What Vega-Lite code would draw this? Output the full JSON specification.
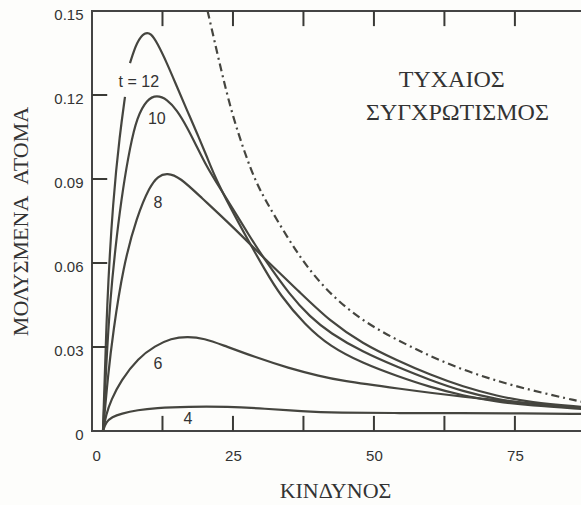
{
  "$schema": "https://vega.github.io/schema/vega-lite/v6.json",
  "width": 490,
  "height": 420,
  "autosize": {"type": "none"},
  "padding": {"left": 92, "top": 11, "right": 0, "bottom": 74},
  "background": "#fdfdfb",
  "config": {
    "view": {"stroke": "#444", "strokeWidth": 2},
    "axis": {"labelFont": "Liberation Sans", "titleFont": "Liberation Serif", "labelColor": "#333", "titleColor": "#333", "ticks": false, "domain": false, "grid": false}
  },
  "datasets": {
    "curves": [
      {"seg": "12a", "x": 1.95, "y": 0}, {"seg": "12a", "x": 2.66, "y": 0.0468}, {"seg": "12a", "x": 3.72, "y": 0.0825}, {"seg": "12a", "x": 4.96, "y": 0.1064}, {"seg": "12a", "x": 5.85, "y": 0.1193},
      {"seg": "12b", "x": 6.74, "y": 0.1314}, {"seg": "12b", "x": 7.98, "y": 0.1392}, {"seg": "12b", "x": 9.4, "y": 0.1425}, {"seg": "12b", "x": 10.46, "y": 0.142}, {"seg": "12b", "x": 11.52, "y": 0.1388}, {"seg": "12b", "x": 13.3, "y": 0.1314}, {"seg": "12b", "x": 15.07, "y": 0.1229}, {"seg": "12b", "x": 16.84, "y": 0.1146}, {"seg": "12b", "x": 18.62, "y": 0.1064}, {"seg": "12b", "x": 20.39, "y": 0.0979}, {"seg": "12b", "x": 21.81, "y": 0.0907}, {"seg": "12b", "x": 24.47, "y": 0.08}, {"seg": "12b", "x": 27.66, "y": 0.0682}, {"seg": "12b", "x": 30.67, "y": 0.0575}, {"seg": "12b", "x": 33.33, "y": 0.0486}, {"seg": "12b", "x": 37.77, "y": 0.0379}, {"seg": "12b", "x": 42.2, "y": 0.0302}, {"seg": "12b", "x": 48.0, "y": 0.0242}, {"seg": "12b", "x": 54.1, "y": 0.0196}, {"seg": "12b", "x": 59.9, "y": 0.0157}, {"seg": "12b", "x": 65.8, "y": 0.0126}, {"seg": "12b", "x": 71.8, "y": 0.0104}, {"seg": "12b", "x": 77.7, "y": 0.0091}, {"seg": "12b", "x": 86.9, "y": 0.0079},
      {"seg": "10", "x": 1.95, "y": 0}, {"seg": "10", "x": 2.48, "y": 0.0218}, {"seg": "10", "x": 3.19, "y": 0.0468}, {"seg": "10", "x": 4.43, "y": 0.0707}, {"seg": "10", "x": 5.5, "y": 0.0868}, {"seg": "10", "x": 6.74, "y": 0.1014}, {"seg": "10", "x": 7.98, "y": 0.1121}, {"seg": "10", "x": 9.75, "y": 0.1185}, {"seg": "10", "x": 11.52, "y": 0.12}, {"seg": "10", "x": 13.3, "y": 0.1185}, {"seg": "10", "x": 15.07, "y": 0.1146}, {"seg": "10", "x": 16.84, "y": 0.1086}, {"seg": "10", "x": 18.62, "y": 0.1014}, {"seg": "10", "x": 20.39, "y": 0.0943}, {"seg": "10", "x": 21.81, "y": 0.0896}, {"seg": "10", "x": 24.47, "y": 0.0811}, {"seg": "10", "x": 28.01, "y": 0.0693}, {"seg": "10", "x": 30.67, "y": 0.0611}, {"seg": "10", "x": 35.11, "y": 0.0485}, {"seg": "10", "x": 38.65, "y": 0.0408}, {"seg": "10", "x": 42.2, "y": 0.035}, {"seg": "10", "x": 48.0, "y": 0.0282}, {"seg": "10", "x": 54.1, "y": 0.0229}, {"seg": "10", "x": 59.9, "y": 0.0182}, {"seg": "10", "x": 65.8, "y": 0.0141}, {"seg": "10", "x": 71.8, "y": 0.0113}, {"seg": "10", "x": 77.7, "y": 0.0096}, {"seg": "10", "x": 86.9, "y": 0.0082},
      {"seg": "8", "x": 1.95, "y": 0}, {"seg": "8", "x": 2.84, "y": 0.02}, {"seg": "8", "x": 3.72, "y": 0.035}, {"seg": "8", "x": 5.5, "y": 0.0586}, {"seg": "8", "x": 7.98, "y": 0.0768}, {"seg": "8", "x": 10.28, "y": 0.0875}, {"seg": "8", "x": 11.7, "y": 0.091}, {"seg": "8", "x": 13.3, "y": 0.0922}, {"seg": "8", "x": 15.6, "y": 0.0906}, {"seg": "8", "x": 19.15, "y": 0.0838}, {"seg": "8", "x": 25.0, "y": 0.0729}, {"seg": "8", "x": 30.67, "y": 0.0614}, {"seg": "8", "x": 36.88, "y": 0.0495}, {"seg": "8", "x": 42.2, "y": 0.0392}, {"seg": "8", "x": 48.0, "y": 0.0312}, {"seg": "8", "x": 54.1, "y": 0.0252}, {"seg": "8", "x": 59.9, "y": 0.0201}, {"seg": "8", "x": 65.8, "y": 0.0158}, {"seg": "8", "x": 71.8, "y": 0.0125}, {"seg": "8", "x": 77.7, "y": 0.0102}, {"seg": "8", "x": 86.9, "y": 0.0086},
      {"seg": "6", "x": 1.95, "y": 0}, {"seg": "6", "x": 2.5, "y": 0.006}, {"seg": "6", "x": 3.4, "y": 0.0111}, {"seg": "6", "x": 5.1, "y": 0.018}, {"seg": "6", "x": 8.2, "y": 0.0261}, {"seg": "6", "x": 11.2, "y": 0.0304}, {"seg": "6", "x": 14.0, "y": 0.0331}, {"seg": "6", "x": 17.0, "y": 0.0338}, {"seg": "6", "x": 20.0, "y": 0.033}, {"seg": "6", "x": 22.9, "y": 0.0309}, {"seg": "6", "x": 28.9, "y": 0.0264}, {"seg": "6", "x": 34.8, "y": 0.0225}, {"seg": "6", "x": 40.6, "y": 0.0195}, {"seg": "6", "x": 43.6, "y": 0.0182}, {"seg": "6", "x": 54.1, "y": 0.0152}, {"seg": "6", "x": 65.8, "y": 0.0121}, {"seg": "6", "x": 77.7, "y": 0.0099}, {"seg": "6", "x": 86.9, "y": 0.0082},
      {"seg": "4", "x": 1.95, "y": 0}, {"seg": "4", "x": 2.48, "y": 0.0032}, {"seg": "4", "x": 3.55, "y": 0.005}, {"seg": "4", "x": 5.14, "y": 0.0062}, {"seg": "4", "x": 8.16, "y": 0.0075}, {"seg": "4", "x": 11.17, "y": 0.0082}, {"seg": "4", "x": 17.0, "y": 0.0087}, {"seg": "4", "x": 24.1, "y": 0.0087}, {"seg": "4", "x": 30.7, "y": 0.008}, {"seg": "4", "x": 37.1, "y": 0.007}, {"seg": "4", "x": 43.6, "y": 0.0065}, {"seg": "4", "x": 54.6, "y": 0.0064}, {"seg": "4", "x": 65.2, "y": 0.0064}, {"seg": "4", "x": 75.9, "y": 0.0063}, {"seg": "4", "x": 86.9, "y": 0.0061}
    ],
    "limit": [
      {"x": 20.5, "y": 0.15}, {"x": 21.8, "y": 0.1386}, {"x": 23.2, "y": 0.1264}, {"x": 25.0, "y": 0.1121}, {"x": 27.1, "y": 0.0993}, {"x": 28.9, "y": 0.0896}, {"x": 31.0, "y": 0.0815}, {"x": 34.6, "y": 0.0693}, {"x": 38.1, "y": 0.0585}, {"x": 42.7, "y": 0.0479}, {"x": 48.2, "y": 0.039}, {"x": 54.1, "y": 0.0325}, {"x": 59.9, "y": 0.0268}, {"x": 65.8, "y": 0.0218}, {"x": 71.8, "y": 0.0179}, {"x": 77.7, "y": 0.0146}, {"x": 86.9, "y": 0.0104}
    ],
    "tickmarks": [
      {"id": "b1", "x": 12.5, "y": 0}, {"id": "b1", "x": 12.5, "y": 0.0054},
      {"id": "b2", "x": 25, "y": 0}, {"id": "b2", "x": 25, "y": 0.0054},
      {"id": "b3", "x": 37.5, "y": 0}, {"id": "b3", "x": 37.5, "y": 0.0054},
      {"id": "b4", "x": 50, "y": 0}, {"id": "b4", "x": 50, "y": 0.0054},
      {"id": "b5", "x": 62.5, "y": 0}, {"id": "b5", "x": 62.5, "y": 0.0054},
      {"id": "b6", "x": 75, "y": 0}, {"id": "b6", "x": 75, "y": 0.0054},
      {"id": "t1", "x": 12.5, "y": 0.1446}, {"id": "t1", "x": 12.5, "y": 0.15},
      {"id": "t2", "x": 25, "y": 0.1446}, {"id": "t2", "x": 25, "y": 0.15},
      {"id": "t3", "x": 37.5, "y": 0.1446}, {"id": "t3", "x": 37.5, "y": 0.15},
      {"id": "t4", "x": 50, "y": 0.1446}, {"id": "t4", "x": 50, "y": 0.15},
      {"id": "t5", "x": 62.5, "y": 0.1446}, {"id": "t5", "x": 62.5, "y": 0.15},
      {"id": "t6", "x": 75, "y": 0.1446}, {"id": "t6", "x": 75, "y": 0.15},
      {"id": "l1", "x": 0, "y": 0.03}, {"id": "l1", "x": 2.7, "y": 0.03},
      {"id": "l2", "x": 0, "y": 0.06}, {"id": "l2", "x": 2.7, "y": 0.06},
      {"id": "l3", "x": 0, "y": 0.09}, {"id": "l3", "x": 2.7, "y": 0.09},
      {"id": "l4", "x": 0, "y": 0.12}, {"id": "l4", "x": 2.7, "y": 0.12}
    ],
    "labels": [
      {"label": "t = 12", "x": 8.3, "y": 0.1246}, {"label": "10", "x": 11.5, "y": 0.1114}, {"label": "8", "x": 11.7, "y": 0.0814}, {"label": "6", "x": 11.7, "y": 0.0239}, {"label": "4", "x": 17.0, "y": 0.0043}
    ],
    "notes": [
      {"label": "ΤΥΧΑΙΟΣ", "x": 63.8, "y": 0.1254}, {"label": "ΣΥΓΧΡΩΤΙΣΜΟΣ", "x": 64.8, "y": 0.1134}
    ]
  },
  "layer": [
    {
      "data": {"name": "curves"},
      "mark": {"type": "line", "interpolate": "basis", "color": "#45453f", "strokeWidth": 2.2, "clip": true},
      "encoding": {
        "x": {"field": "x", "type": "quantitative", "scale": {"domain": [0, 86.9], "nice": false, "zero": false},
          "axis": {"orient": "bottom", "values": [0, 25, 50, 75], "labelPadding": 24, "labelFontSize": 15, "labelBaseline": "middle", "title": "ΚΙΝΔΥΝΟΣ", "titleFontSize": 22, "titleFontWeight": "normal", "titleX": 243, "titleY": 59, "titleBaseline": "middle", "titleAlign": "center"}},
        "y": {"field": "y", "type": "quantitative", "scale": {"domain": [0, 0.15], "nice": false},
          "axis": {"values": [0, 0.03, 0.06, 0.09, 0.12, 0.15], "labelExpr": "datum.value == 0 ? '0' : format(datum.value, '.2f')", "labelPadding": 9, "labelOffset": 3, "labelFontSize": 15, "title": "ΜΟΛΥΣΜΕΝΑ\u00a0\u00a0ΑΤΟΜΑ", "titleFontSize": 22, "titleFontWeight": "normal", "titleX": -72, "titleY": 210, "titleAngle": -90, "titleBaseline": "middle", "titleAlign": "center"}},
        "detail": {"field": "seg", "type": "nominal"}
      }
    },
    {
      "data": {"name": "limit"},
      "mark": {"type": "line", "interpolate": "basis", "color": "#45453f", "strokeWidth": 2.2, "strokeDash": [8, 4, 2, 4], "clip": true},
      "encoding": {
        "x": {"field": "x", "type": "quantitative", "scale": {"domain": [0, 86.9], "nice": false, "zero": false}, "axis": null},
        "y": {"field": "y", "type": "quantitative", "scale": {"domain": [0, 0.15], "nice": false}}
      }
    },
    {
      "data": {"name": "tickmarks"},
      "mark": {"type": "line", "color": "#3a3a36", "strokeWidth": 2},
      "encoding": {
        "x": {"field": "x", "type": "quantitative", "scale": {"domain": [0, 86.9], "nice": false, "zero": false}, "axis": null},
        "y": {"field": "y", "type": "quantitative", "scale": {"domain": [0, 0.15], "nice": false}},
        "detail": {"field": "id", "type": "nominal"}
      }
    },
    {
      "data": {"name": "labels"},
      "mark": {"type": "text", "font": "Liberation Sans", "fontSize": 16, "color": "#333", "align": "center", "baseline": "middle"},
      "encoding": {
        "x": {"field": "x", "type": "quantitative", "scale": {"domain": [0, 86.9], "nice": false, "zero": false}, "axis": null},
        "y": {"field": "y", "type": "quantitative", "scale": {"domain": [0, 0.15], "nice": false}},
        "text": {"field": "label", "type": "nominal"}
      }
    },
    {
      "data": {"name": "notes"},
      "mark": {"type": "text", "font": "Liberation Serif", "fontSize": 24, "color": "#333", "align": "center", "baseline": "middle"},
      "encoding": {
        "x": {"field": "x", "type": "quantitative", "scale": {"domain": [0, 86.9], "nice": false, "zero": false}, "axis": null},
        "y": {"field": "y", "type": "quantitative", "scale": {"domain": [0, 0.15], "nice": false}},
        "text": {"field": "label", "type": "nominal"}
      }
    }
  ],
  "resolve": {"axis": {"x": "independent"}}
}
